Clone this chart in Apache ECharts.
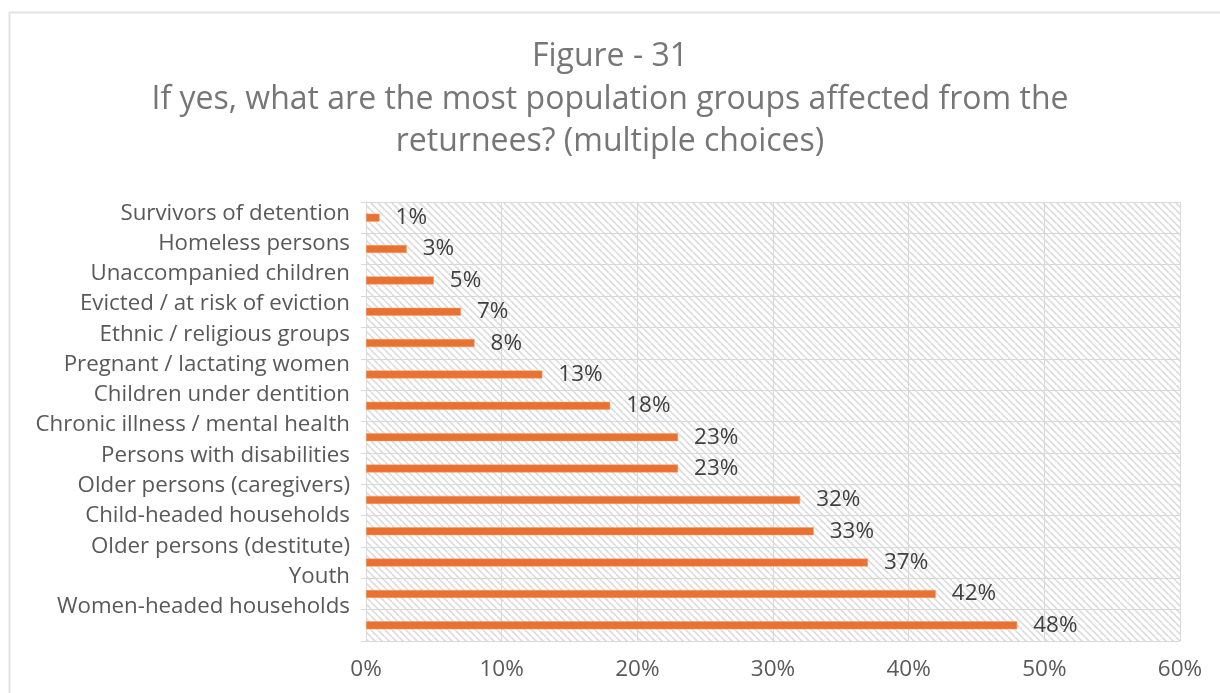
<!DOCTYPE html>
<html>
<head>
<meta charset="utf-8">
<script src="https://cdn.jsdelivr.net/npm/echarts@6/dist/echarts.min.js"></script>
<style>
  html, body { margin: 0; padding: 0; background: #ffffff; }
  #chart { width: 1220px; height: 693px; }
</style>
</head>
<body>
<div id="chart"></div>
<script>
// Population groups, listed top to bottom
const categories = [
  'Survivors of detention',
  'Homeless persons',
  'Unaccompanied children',
  'Evicted / at risk of eviction',
  'Ethnic / religious groups',
  'Pregnant / lactating women',
  'Children under dentition',
  'Chronic illness / mental health',
  'Persons with disabilities',
  'Older persons (caregivers)',
  'Child-headed households',
  'Older persons (destitute)',
  'Youth',
  'Women-headed households'
];
// Share of respondents (%)
const shares = [1, 3, 5, 7, 8, 13, 18, 23, 23, 32, 33, 37, 42, 48];
const xTicks = { min: 0, max: 60, interval: 10 };
const titleLines = [
  'Figure - 31',
  'If yes, what are the most population groups affected from the',
  'returnees? (multiple choices)'
];

// Diagonal hatch used as the plot background
function hatchPattern() {
  const s = 7;
  const c = document.createElement('canvas');
  c.width = s; c.height = s;
  const ctx = c.getContext('2d');
  ctx.fillStyle = '#ffffff';
  ctx.fillRect(0, 0, s, s);
  ctx.strokeStyle = '#dcdcdc';
  ctx.lineWidth = 1.6;
  ctx.beginPath();
  for (const o of [-s, 0, s]) {
    ctx.moveTo(o, 0);
    ctx.lineTo(o + s, s);
  }
  ctx.stroke();
  return c;
}

const FONT = 'Open Sans';
const chart = echarts.init(document.getElementById('chart'), null, { renderer: 'canvas' });

chart.setOption({
  animation: false,
  backgroundColor: '#ffffff',
  textStyle: { fontFamily: FONT },
  title: {
    text: titleLines.join('\n'),
    left: 'center',
    top: 31,
    textStyle: {
      fontFamily: FONT,
      fontSize: 32,
      fontWeight: 'normal',
      color: '#767676',
      lineHeight: 42.5,
      align: 'center'
    }
  },
  graphic: [{
    type: 'rect',
    shape: { x: 9.5, y: 12.5, width: 1400, height: 900 },
    style: { fill: 'none', stroke: '#e3e3e3', lineWidth: 2 },
    silent: true,
    z: -1
  }],
  grid: [
    {
      left: 366, top: 202, width: 814, height: 439,
      show: true,
      backgroundColor: { image: hatchPattern(), repeat: 'repeat' },
      borderWidth: 0
    },
    {
      left: 366, top: 198.2, width: 814, height: 423.6
    }
  ],
  xAxis: [
    {
      gridIndex: 0,
      type: 'value',
      min: xTicks.min, max: xTicks.max, interval: xTicks.interval,
      axisLine: { show: false },
      axisTick: { show: false },
      splitLine: { show: true, lineStyle: { color: '#d9d9d9', width: 1 } },
      axisLabel: {
        formatter: '{value}%',
        fontSize: 22.5,
        color: '#595959',
        margin: 17,
        fontFamily: FONT
      }
    },
    {
      gridIndex: 1,
      type: 'value',
      min: xTicks.min, max: xTicks.max,
      show: false
    }
  ],
  yAxis: [
    {
      gridIndex: 0,
      type: 'category',
      data: categories,
      inverse: true,
      axisLine: { show: true, lineStyle: { color: '#d9d9d9' } },
      axisTick: { show: true, length: 5, lineStyle: { color: '#d9d9d9' } },
      splitLine: { show: true, lineStyle: { color: '#d9d9d9', width: 1 } },
      axisLabel: { show: false }
    },
    {
      gridIndex: 1,
      type: 'category',
      data: categories,
      inverse: true,
      axisLine: { show: false },
      axisTick: { show: false },
      splitLine: { show: false },
      axisLabel: {
        fontSize: 22.3,
        color: '#595959',
        margin: 16,
        fontFamily: FONT
      }
    }
  ],
  series: [{
    type: 'bar',
    xAxisIndex: 0,
    yAxisIndex: 0,
    data: shares,
    barWidth: 8,
    itemStyle: { color: '#E97132', borderColor: '#F0A070', borderWidth: 0.5 },
    label: {
      show: true,
      position: 'right',
      distance: 16,
      formatter: '{c}%',
      fontSize: 22.5,
      color: '#404040',
      fontFamily: FONT
    }
  }]
});
</script>
</body>
</html>
